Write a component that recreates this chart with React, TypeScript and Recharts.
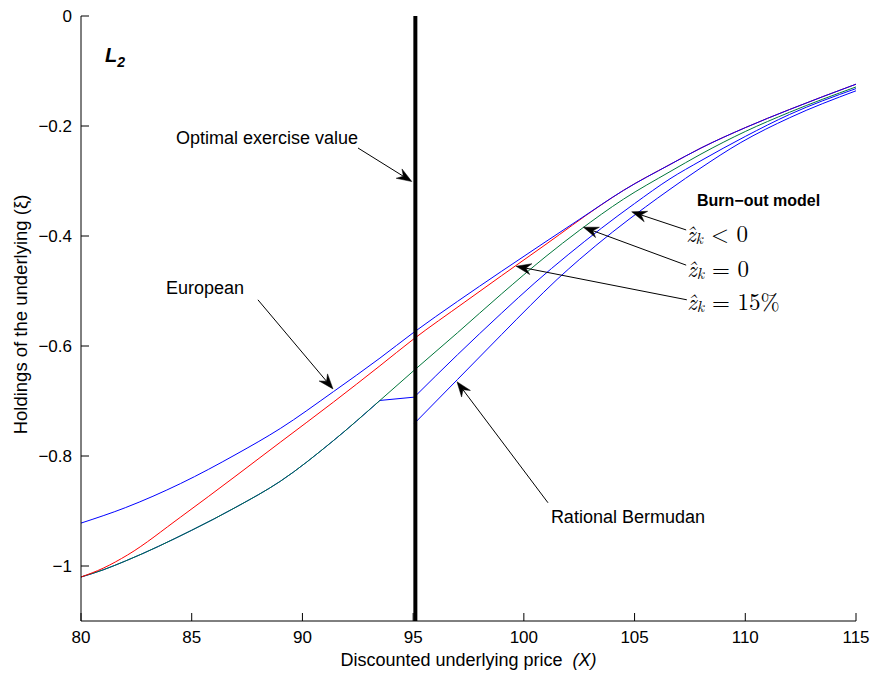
import React from "react";
import { LineChart, Line, XAxis, YAxis, ReferenceLine, ReferenceDot } from "recharts";

// tick values
const xTicks = [80, 85, 90, 95, 100, 105, 110, 115];
const yTicks = [0, -0.2, -0.4, -0.6, -0.8, -1];

// European (blue, top)
const europeanX = [80, 82, 84.5, 87, 89, 91.4, 93.5, 95, 97, 99, 101, 102.5, 104.5, 106.6, 108, 110, 112, 115];
const europeanY = [-0.922, -0.894, -0.85, -0.797, -0.75, -0.683, -0.622, -0.576, -0.519, -0.464, -0.41, -0.37, -0.317, -0.27, -0.24, -0.203, -0.17, -0.124];

// red
const redX = [80, 81, 82.1, 84.5, 87, 89, 91.4, 93.5, 95, 97.3, 99, 101, 103.4, 104.5, 106.6, 108, 110, 112, 115];
const redY = [-1.02, -1.004, -0.98, -0.911, -0.836, -0.775, -0.702, -0.636, -0.588, -0.521, -0.472, -0.415, -0.346, -0.317, -0.27, -0.24, -0.203, -0.17, -0.124];

// green
const greenX = [80, 81, 82, 85, 87, 89, 91.4, 93.5, 95.05, 97, 99, 101, 102.5, 104.5, 106.6, 108, 110, 112, 115];
const greenY = [-1.02, -1.007, -0.991, -0.935, -0.893, -0.846, -0.772, -0.699, -0.644, -0.576, -0.505, -0.437, -0.39, -0.333, -0.283, -0.251, -0.21, -0.175, -0.129];

// blue burn-out branch: left part follows green, short flat step, then right part
const burnLeftX = [80, 81, 82, 85, 87, 89, 91.4, 93.5];
const burnLeftY = [-1.02, -1.007, -0.991, -0.935, -0.893, -0.846, -0.772, -0.699];
const burnStepX = [93.5, 95.05];
const burnStepY = [-0.699, -0.693];
const burnRightX = [95.05, 97, 99, 100.5, 102, 103.5, 105, 106.6, 108, 110, 112, 115];
const burnRightY = [-0.693, -0.616, -0.54, -0.485, -0.434, -0.386, -0.341, -0.296, -0.263, -0.219, -0.179, -0.132];

// blue, lowest
const bermX = [95.05, 97, 99, 100.3, 101.5, 102.5, 104, 105.5, 106.6, 108, 109.8, 112, 115];
const bermY = [-0.741, -0.661, -0.579, -0.526, -0.479, -0.443, -0.393, -0.347, -0.315, -0.276, -0.23, -0.185, -0.136];

const exerciseX = 95.1;

// annotation arrows: [fromX, fromY, toX, toY]
const arrows = [
  [92.51, -0.24, 94.94, -0.301],
  [87.99, -0.516, 91.38, -0.678],
  [101.09, -0.885, 96.98, -0.665],
  [107.33, -0.389, 104.87, -0.356],
  [107.33, -0.453, 102.69, -0.384],
  [107.36, -0.516, 99.65, -0.455],
];

// plain text labels: [text, x, y]
const notes: [string, number, number][] = [
  ["Optimal exercise value", 88.4, -0.222],
  ["European", 85.6, -0.4945],
  ["Rational Bermudan", 104.7, -0.911],
];

// burn-out legend
const burnTitle = "Burn\u2212out model";
const burnTitlePos = [107.82, -0.336];
const zLabels: [string, number, number][] = [
  ["< 0", 107.33, -0.392],
  ["= 0", 107.38, -0.457],
  ["= 15%", 107.38, -0.516],
];

const sans = "'Liberation Sans', Arial, Helvetica, sans-serif";
const serif = "'Latin Modern Roman', 'DejaVu Serif', 'Liberation Serif', serif";

const zip = (xs: number[], ys: number[]) => xs.map((x, i) => ({ x, y: ys[i] }));

const fmtY = (v: number) => (v === 0 ? "0" : v === -1 ? "\u22121" : "\u2212" + Math.abs(v).toFixed(1));

function ArrowShape(props: any) {
  const { x1, y1, x2, y2 } = props;
  const dx = x2 - x1;
  const dy = y2 - y1;
  const len = Math.hypot(dx, dy) || 1;
  const ux = dx / len;
  const uy = dy / len;
  const px = -uy;
  const py = ux;
  const L = 15;
  const W = 5.5;
  const N = 10;
  const bx = x2 - ux * L;
  const by = y2 - uy * L;
  const nx = x2 - ux * N;
  const ny = y2 - uy * N;
  const pts = `${x2},${y2} ${bx + px * W},${by + py * W} ${nx},${ny} ${bx - px * W},${by - py * W}`;
  return (
    <g>
      <line x1={x1} y1={y1} x2={nx} y2={ny} stroke="#000" strokeWidth={1} />
      <polygon points={pts} fill="#000" stroke="#000" strokeWidth={0.5} />
    </g>
  );
}

const series = (xs: number[], ys: number[], color: string, type: any = "monotone") => (
  <Line data={zip(xs, ys)} dataKey="y" type={type} stroke={color} strokeWidth={1} dot={false} activeDot={false} isAnimationActive={false} />
);

export default function App() {
  return (
    <div style={{ position: "absolute", left: 0, top: 0, background: "#fff" }}>
      <LineChart width={875} height={673} margin={{ top: 16, right: 19, left: 0, bottom: 0 }}>
        <XAxis
          dataKey="x"
          type="number"
          domain={[80, 115]}
          ticks={xTicks}
          allowDataOverflow
          height={52}
          tickSize={-8}
          tickMargin={18}
          stroke="#000"
          tick={{ fill: "#000", fontSize: 17, fontFamily: sans }}
          label={{
            content: (p: any) => {
              const vb = p.viewBox;
              return (
                <text x={vb.x + vb.width / 2} y={660} textAnchor="middle" dominantBaseline="central" fontFamily={sans} fontSize={18} fill="#000">
                  Discounted underlying price{"\u00a0\u00a0"}
                  <tspan fontStyle="italic">(X)</tspan>
                </text>
              );
            },
          }}
        />
        <XAxis xAxisId="top" orientation="top" type="number" domain={[80, 115]} ticks={xTicks} height={0} tickSize={-8} tick={false} stroke="#000" />
        <YAxis
          type="number"
          domain={[-1.1, 0]}
          ticks={yTicks}
          allowDataOverflow
          width={81}
          tickSize={-8}
          tickMargin={17}
          tickFormatter={fmtY}
          stroke="#000"
          tick={{ fill: "#000", fontSize: 17, fontFamily: sans }}
          label={{
            content: (p: any) => {
              const vb = p.viewBox;
              const cy = vb.y + vb.height / 2 - 4;
              return (
                <text x={20} y={cy} transform={`rotate(-90 20 ${cy})`} textAnchor="middle" dominantBaseline="central" fontFamily={sans} fontSize={18.5} fill="#000">
                  Holdings of the underlying (ξ)
                </text>
              );
            },
          }}
        />
        <YAxis yAxisId="right" orientation="right" type="number" domain={[-1.1, 0]} ticks={yTicks} width={0} tickSize={-8} tick={false} stroke="#000" />

        {series(bermX, bermY, "#0000ff")}
        {series(burnLeftX, burnLeftY, "#0000ff")}
        {series(burnStepX, burnStepY, "#0000ff", "linear")}
        {series(burnRightX, burnRightY, "#0000ff")}
        {series(greenX, greenY, "#00763a")}
        {series(redX, redY, "#ff0000")}
        {series(europeanX, europeanY, "#0000ff")}

        <ReferenceLine x={exerciseX} stroke="#000" strokeWidth={4} />

        {arrows.map((a, i) => (
          <ReferenceLine
            key={"a" + i}
            segment={[
              { x: a[0], y: a[1] },
              { x: a[2], y: a[3] },
            ]}
            shape={ArrowShape}
          />
        ))}

        {notes.map((n, i) => (
          <ReferenceDot
            key={"n" + i}
            x={n[1]}
            y={n[2]}
            r={0}
            shape={(p: any) => (
              <text x={p.cx} y={p.cy} textAnchor="middle" dominantBaseline="central" fontFamily={sans} fontSize={18} fill="#000">
                {n[0]}
              </text>
            )}
          />
        ))}

        <ReferenceDot
          x={burnTitlePos[0]}
          y={burnTitlePos[1]}
          r={0}
          shape={(p: any) => (
            <text x={p.cx} y={p.cy} dominantBaseline="central" fontFamily={sans} fontSize={16} fontWeight="bold" fill="#000">
              {burnTitle}
            </text>
          )}
        />

        {zLabels.map((z, i) => (
          <ReferenceDot
            key={"z" + i}
            x={z[1]}
            y={z[2]}
            r={0}
            shape={(p: any) => (
              <text x={p.cx} y={p.cy} dominantBaseline="central" fontFamily={serif} fontSize={23} fill="#000">
                <tspan fontStyle="italic">{"z\u0302"}</tspan>
                <tspan fontStyle="italic" fontSize={16} dy={5}>k</tspan>
                <tspan dy={-5} dx={8}>{z[0]}</tspan>
              </text>
            )}
          />
        ))}

        <ReferenceDot
          x={81.08}
          y={-0.071}
          r={0}
          shape={(p: any) => (
            <text x={p.cx} y={p.cy} dominantBaseline="central" fontFamily={sans} fontSize={20} fontWeight="bold" fontStyle="italic" fill="#000">
              L<tspan fontSize={14} dy={7}>2</tspan>
            </text>
          )}
        />
      </LineChart>
    </div>
  );
}
